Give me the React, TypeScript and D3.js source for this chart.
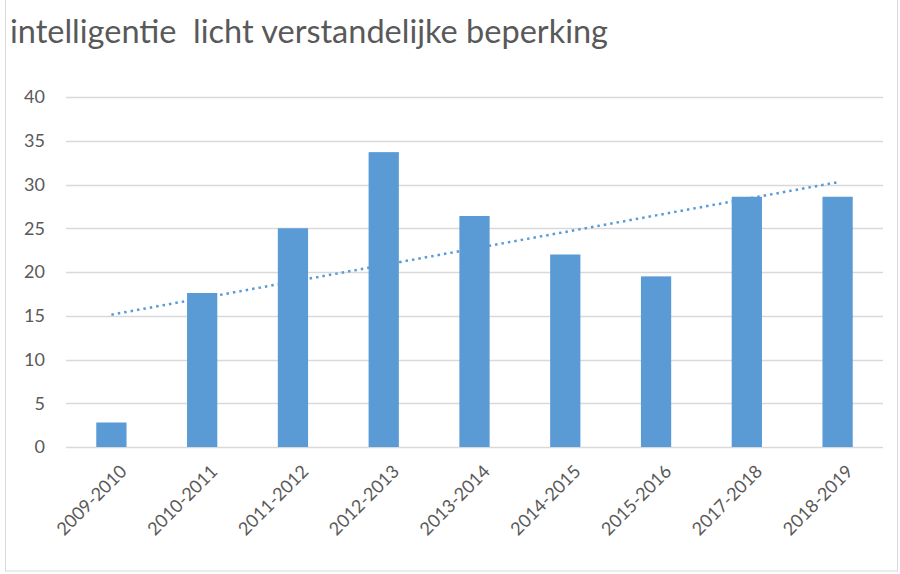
import { useEffect, useRef } from "react";
import * as d3 from "d3";

const years = [
  "2009-2010",
  "2010-2011",
  "2011-2012",
  "2012-2013",
  "2013-2014",
  "2014-2015",
  "2015-2016",
  "2017-2018",
  "2018-2019",
];
const counts = [2.8, 17.6, 25.0, 33.7, 26.4, 22.0, 19.5, 28.6, 28.6];
const yTicks = [0, 5, 10, 15, 20, 25, 30, 35, 40];
const title = "intelligentie  licht verstandelijke beperking";

const width = 900;
const height = 574;
const margin = { top: 97, right: 17, bottom: 127, left: 66 };
const font = "Lato, 'Open Sans', sans-serif";

const App = () => {
  const svgRef = useRef<SVGSVGElement>(null);

  useEffect(() => {
    const svg = d3.select(svgRef.current);
    svg.selectAll("*").remove();

    const boundsWidth = width - margin.left - margin.right;
    const boundsHeight = height - margin.top - margin.bottom;

    // chart frame
    svg
      .append("rect")
      .attr("x", 5.5)
      .attr("y", -1)
      .attr("width", 892)
      .attr("height", 572)
      .attr("fill", "white")
      .attr("stroke", "#d9d9d9");

    svg
      .append("text")
      .attr("x", 10)
      .attr("y", 43)
      .attr("fill", "#595959")
      .attr("font-family", font)
      .attr("font-size", 32.5)
      .style("white-space", "pre")
      .text(title);

    const g = svg
      .append("g")
      .attr("transform", `translate(${margin.left},${margin.top})`);

    const x = d3
      .scaleBand()
      .domain(years)
      .range([0, boundsWidth])
      .paddingInner(2 / 3)
      .paddingOuter(1 / 3);
    const y = d3.scaleLinear().domain([0, 40]).range([boundsHeight, 0]);

    // gridlines
    g.selectAll("line.grid")
      .data(yTicks)
      .join("line")
      .attr("class", "grid")
      .attr("x1", 0)
      .attr("x2", boundsWidth)
      .attr("y1", (d) => Math.round(y(d)) + 0.5)
      .attr("y2", (d) => Math.round(y(d)) + 0.5)
      .attr("stroke", "#d9d9d9")
      .attr("stroke-width", 1.3);

    // y labels
    g.selectAll("text.ytick")
      .data(yTicks)
      .join("text")
      .attr("class", "ytick")
      .attr("x", -21)
      .attr("y", (d) => y(d))
      .attr("dy", "0.36em")
      .attr("text-anchor", "end")
      .attr("fill", "#595959")
      .attr("font-family", font)
      .attr("font-size", 18)
      .text((d) => d);

    // bars
    g.selectAll("rect.bar")
      .data(counts)
      .join("rect")
      .attr("class", "bar")
      .attr("x", (d, i) => x(years[i])!)
      .attr("y", (d) => y(d))
      .attr("width", x.bandwidth())
      .attr("height", (d) => boundsHeight - y(d))
      .attr("fill", "#5b9bd5");

    // linear trendline (least squares over category index)
    const xs = counts.map((d, i) => i + 1);
    const mx = d3.mean(xs)!;
    const my = d3.mean(counts)!;
    const slope =
      d3.sum(xs, (xi, i) => (xi - mx) * (counts[i] - my)) /
      d3.sum(xs, (xi) => (xi - mx) ** 2);
    const icpt = my - slope * mx;
    const cx = (i: number) => x(years[i])! + x.bandwidth() / 2;

    const line = d3
      .line<number>()
      .x((d) => cx(d - 1))
      .y((d) => y(icpt + slope * d));

    g.append("path")
      .datum([1, xs.length])
      .attr("d", line)
      .attr("fill", "none")
      .attr("stroke", "#5b9bd5")
      .attr("stroke-width", 2.5)
      .attr("stroke-dasharray", "2.5 4");

    // x labels, rotated
    g.selectAll("text.xtick")
      .data(years)
      .join("text")
      .attr("class", "xtick")
      .attr(
        "transform",
        (d) => `translate(${x(d)! + x.bandwidth() / 2 + 12},${boundsHeight + 21}) rotate(-45)`
      )
      .attr("dy", "0.36em")
      .attr("text-anchor", "end")
      .attr("fill", "#595959")
      .attr("font-family", font)
      .attr("font-size", 18)
      .text((d) => d);
  }, []);

  return (
    <svg
      ref={svgRef}
      width={width}
      height={height}
      style={{ position: "absolute", left: 0, top: 0 }}
    ></svg>
  );
};

export default App;
